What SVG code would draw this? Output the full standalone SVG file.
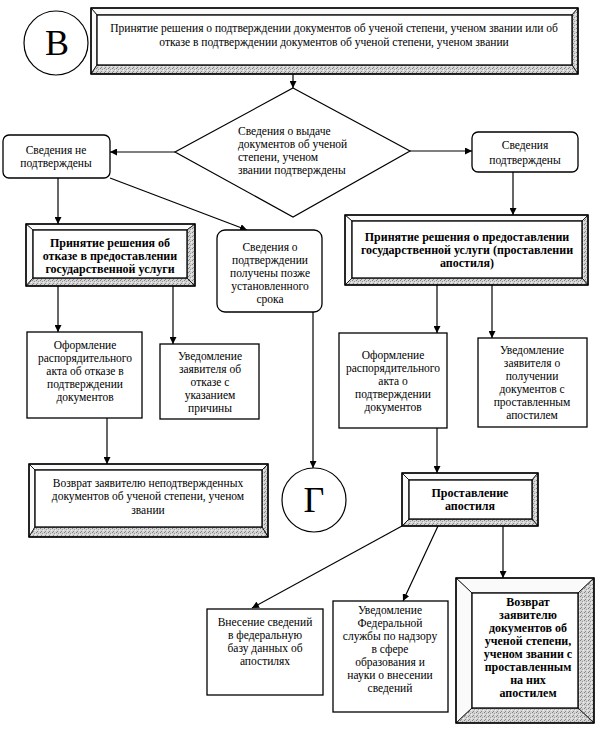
<svg xmlns="http://www.w3.org/2000/svg" width="597" height="733" viewBox="0 0 597 733">
<style>
text{font-family:"Liberation Serif","Times New Roman",serif;font-size:11.5px;fill:#000;text-anchor:middle}
.b{font-weight:bold;font-size:12px}
.l{text-anchor:start}
.big{font-size:36px}
.box{fill:#fff;stroke:#000;stroke-width:1.3}
.bl{fill:#fafafa;stroke:#000;stroke-width:0.8}
.bd{fill:url(#stip);stroke:#000;stroke-width:0.8}
.out{fill:none;stroke:#000;stroke-width:1.5}
.ln{fill:none;stroke:#000;stroke-width:1.2}
.ar{fill:none;stroke:#000;stroke-width:1.2;marker-end:url(#ah)}
</style>
<defs>
<pattern id="stip" width="4" height="4" patternUnits="userSpaceOnUse">
<rect width="4" height="4" fill="#d4d4d4"/>
<rect x="0" y="0" width="1" height="1" fill="#808080"/>
<rect x="2" y="1" width="1" height="1" fill="#9a9a9a"/>
<rect x="1" y="3" width="1" height="1" fill="#8a8a8a"/>
<rect x="3" y="2" width="1" height="1" fill="#f0f0f0"/>
</pattern>
<marker id="ah" viewBox="0 0 10 10" refX="10" refY="5" markerWidth="7" markerHeight="7" markerUnits="userSpaceOnUse" orient="auto">
<path d="M0,0 L10,5 L0,10 z" fill="#000"/>
</marker>
</defs>
<rect width="597" height="733" fill="#fff"/>

<g id="connectors">
<line class="ar" x1="293" y1="74" x2="293" y2="88"/>
<line class="ar" x1="175" y1="152" x2="110" y2="152"/>
<line class="ar" x1="410" y1="151" x2="472" y2="151"/>
<line class="ar" x1="513" y1="172" x2="513" y2="215"/>
<line class="ar" x1="58" y1="178" x2="58" y2="224"/>
<line class="ar" x1="110" y1="178" x2="247" y2="230"/>
<line class="ar" x1="58" y1="286" x2="58" y2="332"/>
<line class="ar" x1="173" y1="286" x2="173" y2="344"/>
<line class="ar" x1="107" y1="418" x2="107" y2="464"/>
<line class="ar" x1="313" y1="312" x2="313" y2="468"/>
<line class="ar" x1="437" y1="285" x2="437" y2="333"/>
<line class="ar" x1="492" y1="285" x2="492" y2="338"/>
<line class="ar" x1="437" y1="428" x2="437" y2="473"/>
<line class="ar" x1="402" y1="526" x2="252" y2="608"/>
<line class="ar" x1="438" y1="526" x2="403" y2="601"/>
<line class="ar" x1="503" y1="526" x2="503" y2="578"/>
</g>

<g id="circleB">
<circle cx="56" cy="43" r="32" fill="#fff" stroke="#000" stroke-width="1.2"/>
<text class="big" x="57" y="55">В</text>
</g>

<g id="decision_top">
<polygon class="bl" points="91,8 578,8 572,15 97,15"/>
<polygon class="bl" points="91,8 97,15 97,65 91,74"/>
<polygon class="bd" points="578,8 578,74 572,65 572,15"/>
<polygon class="bd" points="91,74 97,65 572,65 578,74"/>
<rect class="box" x="97" y="15" width="475" height="50"/>
<rect class="out" x="91" y="8" width="487" height="66"/>
<text x="334" y="32">Принятие решения о подтверждении документов об ученой степени, ученом звании или об</text>
<text x="334" y="46">отказе в подтверждении документов об ученой степени, ученом звании</text>
</g>

<g id="check">
<polygon points="293,88 410,151 293,217 175,152" fill="#fff" stroke="#000" stroke-width="1.2"/>
<text class="l" x="238" y="135">Сведения о выдаче</text>
<text class="l" x="238" y="148">документов об ученой</text>
<text class="l" x="238" y="161">степени, ученом</text>
<text class="l" x="238" y="174">звании подтверждены</text>
</g>

<g id="not_confirmed">
<rect class="box" x="3" y="135" width="107" height="43" rx="6"/>
<text x="56" y="154">Сведения не</text>
<text x="56" y="167">подтверждены</text>
</g>

<g id="confirmed">
<rect class="box" x="472" y="132" width="106" height="40" rx="6"/>
<text x="525" y="149">Сведения</text>
<text x="525" y="164">подтверждены</text>
</g>

<g id="refuse_decision">
<polygon class="bl" points="26,224 195,224 187,230 33,230"/>
<polygon class="bl" points="26,224 33,230 33,278 26,286"/>
<polygon class="bd" points="195,224 195,286 187,278 187,230"/>
<polygon class="bd" points="26,286 33,278 187,278 195,286"/>
<rect class="box" x="33" y="230" width="154" height="48"/>
<rect class="out" x="26" y="224" width="169" height="62"/>
<text class="b" x="110" y="247">Принятие решения об</text>
<text class="b" x="110" y="260">отказе в предоставлении</text>
<text class="b" x="110" y="273">государственной услуги</text>
</g>

<g id="late">
<rect class="box" x="217" y="230" width="105" height="82" rx="8"/>
<text x="270" y="251">Сведения о</text>
<text x="270" y="264">подтверждении</text>
<text x="270" y="277">получены позже</text>
<text x="270" y="290">установленного</text>
<text x="270" y="303">срока</text>
</g>

<g id="refuse_act">
<rect class="box" x="27" y="332" width="115" height="86"/>
<text x="85" y="349">Оформление</text>
<text x="85" y="362">распорядительного</text>
<text x="85" y="375">акта об отказе в</text>
<text x="85" y="388">подтверждении</text>
<text x="85" y="401">документов</text>
</g>

<g id="refuse_notify">
<rect class="box" x="160" y="344" width="99" height="75"/>
<text x="210" y="360">Уведомление</text>
<text x="210" y="373">заявителя об</text>
<text x="210" y="386">отказе с</text>
<text x="210" y="399">указанием</text>
<text x="210" y="412">причины</text>
</g>

<g id="return_refused">
<polygon class="bl" points="29,464 268,464 262,470 35,470"/>
<polygon class="bl" points="29,464 35,470 35,527 29,537"/>
<polygon class="bd" points="268,464 268,537 262,527 262,470"/>
<polygon class="bd" points="29,537 35,527 262,527 268,537"/>
<rect class="box" x="35" y="470" width="227" height="57"/>
<rect class="out" x="29" y="464" width="239" height="73"/>
<text x="148" y="487">Возврат заявителю неподтвержденных</text>
<text x="148" y="500">документов об ученой степени, ученом</text>
<text x="148" y="514">звании</text>
</g>

<g id="circleG">
<circle cx="314" cy="500" r="32" fill="#fff" stroke="#000" stroke-width="1.2"/>
<text class="big" x="314" y="512">Г</text>
</g>

<g id="grant_decision">
<polygon class="bl" points="345,215 588,215 582,221 352,221"/>
<polygon class="bl" points="345,215 352,221 352,278 345,285"/>
<polygon class="bd" points="588,215 588,285 582,278 582,221"/>
<polygon class="bd" points="345,285 352,278 582,278 588,285"/>
<rect class="box" x="352" y="221" width="230" height="57"/>
<rect class="out" x="345" y="215" width="243" height="70"/>
<text class="b" x="467" y="241">Принятие решения о предоставлении</text>
<text class="b" x="467" y="254">государственной услуги (проставлении</text>
<text class="b" x="467" y="267">апостиля)</text>
</g>

<g id="grant_act">
<rect class="box" x="339" y="333" width="108" height="95"/>
<text x="393" y="359">Оформление</text>
<text x="393" y="372">распорядительного</text>
<text x="393" y="385">акта о</text>
<text x="393" y="398">подтверждении</text>
<text x="393" y="411">документов</text>
</g>

<g id="grant_notify">
<rect class="box" x="478" y="338" width="109" height="89"/>
<text x="532" y="354">Уведомление</text>
<text x="532" y="367">заявителя о</text>
<text x="532" y="380">получении</text>
<text x="532" y="393">документов с</text>
<text x="532" y="406">проставленным</text>
<text x="532" y="419">апостилем</text>
</g>

<g id="apostille">
<polygon class="bl" points="402,473 538,473 532,480 409,480"/>
<polygon class="bl" points="402,473 409,480 409,519 402,526"/>
<polygon class="bd" points="538,473 538,526 532,519 532,480"/>
<polygon class="bd" points="402,526 409,519 532,519 538,526"/>
<rect class="box" x="409" y="480" width="123" height="39"/>
<rect class="out" x="402" y="473" width="136" height="53"/>
<text class="b" x="470" y="497">Проставление</text>
<text class="b" x="470" y="510">апостиля</text>
</g>

<g id="database">
<rect class="box" x="207" y="609" width="116" height="86"/>
<text x="265" y="626">Внесение сведений</text>
<text x="265" y="639">в федеральную</text>
<text x="265" y="652">базу данных об</text>
<text x="265" y="665">апостилях</text>
</g>

<g id="notify_service">
<rect class="box" x="333" y="601" width="115" height="111"/>
<text x="390" y="614">Уведомление</text>
<text x="390" y="627">Федеральной</text>
<text x="390" y="640">службы по надзору</text>
<text x="390" y="653">в сфере</text>
<text x="390" y="666">образования и</text>
<text x="390" y="679">науки о внесении</text>
<text x="390" y="692">сведений</text>
</g>

<g id="return_docs">
<polygon class="bl" points="456,578 594,578 578,593 472,593"/>
<polygon class="bl" points="456,578 472,593 472,708 456,723"/>
<polygon class="bd" points="594,578 594,723 578,708 578,593"/>
<polygon class="bd" points="456,723 472,708 578,708 594,723"/>
<rect class="box" x="472" y="593" width="106" height="115"/>
<rect class="out" x="456" y="578" width="138" height="145"/>
<text class="b" x="528" y="606">Возврат</text>
<text class="b" x="528" y="619">заявителю</text>
<text class="b" x="528" y="632">документов об</text>
<text class="b" x="528" y="645">ученой степени,</text>
<text class="b" x="528" y="658">ученом звании с</text>
<text class="b" x="528" y="671">проставленным</text>
<text class="b" x="528" y="684">на них</text>
<text class="b" x="528" y="697">апостилем</text>
</g>
</svg>
